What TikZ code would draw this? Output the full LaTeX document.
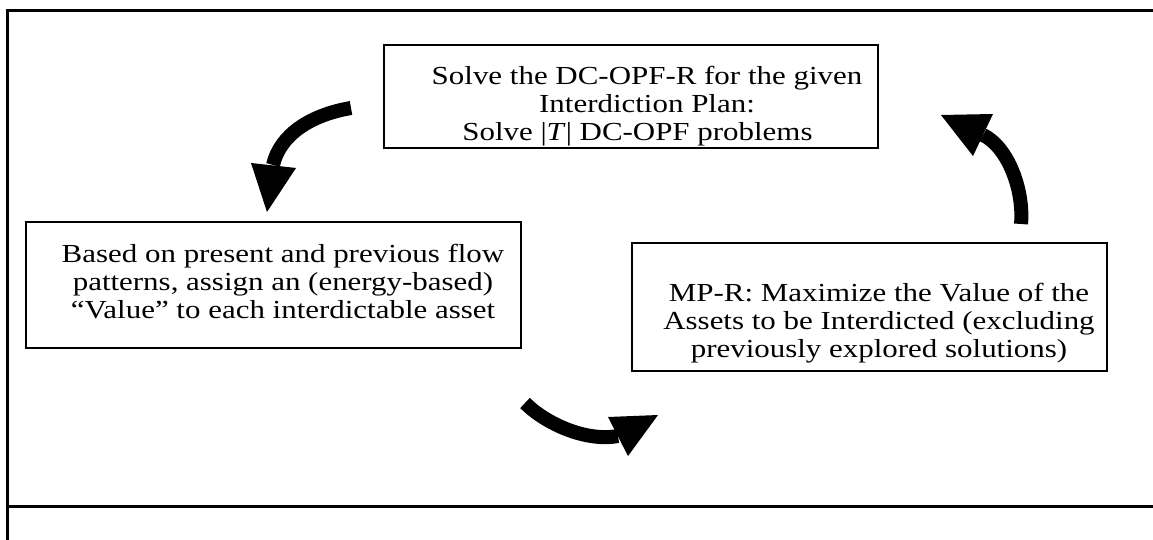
\documentclass[tikz,border=0pt]{standalone}
\usepackage{graphicx}
\usepackage{fontspec}
\setmainfont{Liberation Serif}
% three centred lines, slightly widened
\newcommand{\steplines}[3]{\scalebox{1.19}[1]{\fontsize{26}{28}\selectfont
  \begin{tabular}{@{}c@{}}#1\\#2\\#3\end{tabular}}}
\begin{document}
\begin{tikzpicture}[x=1pt,y=-1pt,
  frameline/.style={line width=3pt},
  box/.style={draw, line width=1.6pt, inner sep=0pt},
  boxtext/.style={inner sep=0pt, anchor=center},
  shaft/.style={line width=14pt},
  tiphead/.style={fill=black}]
\useasboundingbox (0,0) rectangle (1153,540);

% page frame
\coordinate (fBL) at (7,540);
\coordinate (fTL) at (7,10.5);
\coordinate (fTR) at (1153,10.5);
\coordinate (fML) at (7,506.5);
\coordinate (fMR) at (1153,506.5);
\draw[frameline] (fBL) -- (fTL) -- (fTR);
\draw[line width=2.5pt] (fML) -- (fMR);

% the three steps
\node[box, minimum width=494pt, minimum height=103pt] (solve) at (631,96.5) {};
\node[boxtext] (solvetext) at (647,106.5)
  {\steplines{Solve the DC-OPF-R for the given}{Interdiction Plan:}{Solve |\textit{T}| DC-OPF problems\hspace*{16pt}}};

\node[box, minimum width=495pt, minimum height=126pt] (value) at (273.5,285) {};
\node[boxtext] (valuetext) at (283,284.5)
  {\steplines{Based on present and previous flow}{patterns, assign an (energy-based)}{“Value” to each interdictable asset}};

\node[box, minimum width=475pt, minimum height=128pt] (mpr) at (869.5,307) {};
\node[boxtext] (mprtext) at (879,323.5)
  {\steplines{MP-R: Maximize the Value of the}{Assets to be Interdicted (excluding}{previously explored solutions)}};

% curved arrows between the steps
\coordinate (aOneS) at (351,108);
\coordinate (aOneE) at (273,165);
\coordinate (aOneL) at (251,163);
\coordinate (aOneR) at (296,168);
\coordinate (aOneT) at (267,212);
\draw[shaft] (aOneS) .. controls (310,115) and (280,135) .. (aOneE);
\fill[tiphead] (aOneL) -- (aOneR) -- (aOneT) -- cycle;

\coordinate (aTwoS) at (525,403);
\coordinate (aTwoE) at (618,436);
\coordinate (aTwoL) at (608,417);
\coordinate (aTwoR) at (628,456);
\coordinate (aTwoT) at (658,415);
\draw[shaft] (aTwoS) .. controls (545,423) and (585,442) .. (aTwoE);
\fill[tiphead] (aTwoL) -- (aTwoR) -- (aTwoT) -- cycle;

\coordinate (aThreeS) at (1021,224);
\coordinate (aThreeE) at (983,135);
\coordinate (aThreeL) at (993,114);
\coordinate (aThreeR) at (973,156);
\coordinate (aThreeT) at (941,115);
\draw[shaft] (aThreeS) .. controls (1024,190) and (1008,147) .. (aThreeE);
\fill[tiphead] (aThreeL) -- (aThreeR) -- (aThreeT) -- cycle;
\end{tikzpicture}
\end{document}
